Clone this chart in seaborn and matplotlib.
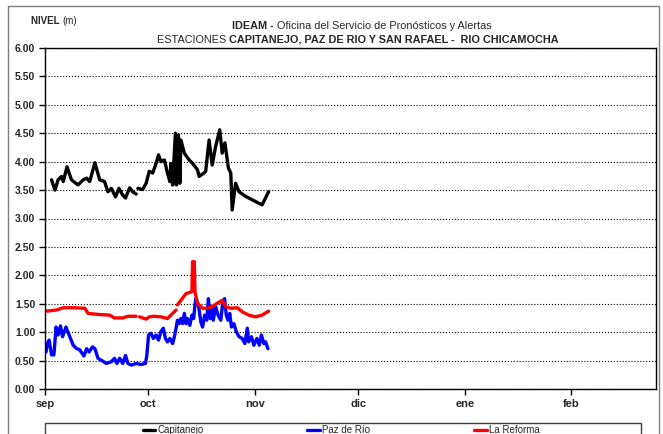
import numpy as np
import pandas as pd
import matplotlib
matplotlib.use("Agg")
import matplotlib.pyplot as plt
import seaborn as sns
from matplotlib.patches import Rectangle

nan = np.nan
inicio = pd.Timestamp("2013-09-01")

# dias contados desde el 1 de septiembre, niveles en metros (nan = sin dato)
dias_cap = [1.9, 2.9, 3.8, 4.8, 5.3, 6.4, 7.7, 9.6, 11.1, 12.1, 13.0, 14.5, 15.9, 17.3, 18.3,
            19.3, 20.5, 21.5, 22.5, 23.4, 24.6, 25.5, 26.5, 26.8, 27.0, 28.4, 29.4, 30.3, 31.3, 32.3,
            33.0, 33.7, 34.7, 35.6, 36.3, 36.6, 37.1, 37.9, 38.2, 38.8, 39.2, 39.5, 40.5, 41.9, 42.9,
            44.3, 44.8, 46.2, 46.7, 47.7, 48.6, 49.6, 50.8, 51.5, 52.3, 53.3, 54.0, 54.4, 55.4, 56.4,
            58.3, 60.2, 62.1, 63.1, 65.0]
nivel_cap = [3.68, 3.50, 3.68, 3.74, 3.65, 3.91, 3.68, 3.59, 3.68, 3.71, 3.65, 3.98, 3.68, 3.65, 3.47,
             3.53, 3.38, 3.53, 3.42, 3.36, 3.54, 3.47, 3.43, nan, 3.53, 3.51, 3.62, 3.83, 3.80, 3.97,
             4.12, 4.00, 4.03, 3.80, 3.65, 3.97, 3.59, 4.50, 3.59, 4.47, 3.62, 4.38, 4.15, 4.03, 3.97,
             3.86, 3.74, 3.80, 3.83, 4.38, 3.94, 4.27, 4.56, 4.15, 4.33, 3.89, 3.80, 3.15, 3.62, 3.47,
             3.39, 3.33, 3.27, 3.24, 3.47]

dias_paz = [0.3, 0.7, 1.2, 1.9, 2.6, 3.2, 3.8, 4.5, 5.1, 6.1, 7.0, 8.2, 9.2, 10.1, 11.3,
            12.1, 12.8, 13.8, 14.5, 15.4, 16.8, 17.8, 19.3, 20.2, 20.9, 21.7, 22.6, 23.4, 24.1, 25.1,
            26.5, 27.9, 29.2, 29.6, 30.1, 30.8, 31.5, 32.3, 33.0, 33.7, 34.4, 35.0, 35.6, 36.3, 37.1,
            37.6, 38.1, 38.5, 39.0, 39.5, 40.0, 40.5, 41.0, 41.4, 42.1, 42.7, 43.2, 43.8, 44.6, 45.3,
            45.8, 46.4, 47.0, 47.5, 48.0, 48.5, 48.9, 49.6, 50.3, 51.1, 51.7, 52.2, 52.7, 53.2, 53.7,
            54.2, 54.9, 55.6, 56.4, 57.3, 58.1, 58.8, 59.2, 60.0, 60.7, 61.6, 62.3, 62.9, 63.6, 64.1,
            64.8]
nivel_paz = [0.65, 0.80, 0.86, 0.60, 0.60, 1.09, 0.95, 1.11, 0.92, 1.09, 0.95, 0.77, 0.71, 0.69, 0.58,
             0.71, 0.65, 0.74, 0.71, 0.54, 0.49, 0.45, 0.48, 0.54, 0.45, 0.54, 0.45, 0.59, 0.45, 0.42,
             0.45, 0.43, 0.45, 0.59, 0.95, 0.98, 0.89, 0.95, 0.86, 1.01, 1.07, 0.89, 0.83, 0.89, 0.80,
             0.92, 1.07, 1.21, 1.15, 1.24, 1.15, 1.33, 1.15, 1.24, 1.12, 1.30, 1.24, 1.59, 1.48, 1.18,
             1.09, 1.30, 1.21, 1.59, 1.24, 1.45, 1.21, 1.45, 1.30, 1.21, 1.54, 1.59, 1.30, 1.21, 1.33,
             1.09, 1.15, 1.01, 0.92, 0.89, 0.80, 1.07, 0.83, 0.92, 0.77, 0.89, 0.77, 0.95, 0.80, 0.83,
             0.71]

dias_ref = [0.3, 3.4, 5.3, 8.2, 11.6, 12.5, 15.9, 18.8, 20.2, 22.6, 24.1, 26.5, 27.0, 27.5, 29.4,
            30.3, 31.8, 33.7, 35.6, 37.1, 38.1, 38.3, 38.5, 39.5, 41.0, 42.7, 42.9, 43.4, 43.6, 44.3,
            45.8, 47.2, 48.6, 50.1, 51.5, 52.5, 54.0, 55.9, 57.3, 59.2, 61.2, 63.1, 65.0]
nivel_ref = [1.37, 1.39, 1.43, 1.43, 1.42, 1.33, 1.31, 1.30, 1.25, 1.25, 1.28, 1.28, nan, 1.27, 1.23,
             1.27, 1.28, 1.27, 1.24, 1.33, 1.39, nan, 1.48, 1.56, 1.68, 1.71, 2.24, 2.24, 1.71, 1.51,
             1.42, 1.42, 1.45, 1.51, 1.56, 1.45, 1.42, 1.43, 1.36, 1.30, 1.27, 1.30, 1.37]

estaciones = ["Capitanejo", "Paz de Río", "La Reforma"]
colores = ["black", "blue", "red"]
meses = ["sep", "oct", "nov", "dic", "ene", "feb"]
inicio_meses = ["2013-09-01", "2013-10-01", "2013-11-01", "2013-12-01", "2014-01-01", "2014-02-01"]

frames = []
for est, d, v in zip(estaciones, [dias_cap, dias_paz, dias_ref], [nivel_cap, nivel_paz, nivel_ref]):
    s = pd.DataFrame({"dia": d, "nivel": v})
    s["tramo"] = s["nivel"].isna().cumsum()
    s = s.dropna()
    s["fecha"] = inicio + pd.to_timedelta(s["dia"], unit="D")
    s["estacion"] = est
    frames.append(s)
df = pd.concat(frames, ignore_index=True)

sns.set_style("white")
plt.rcParams["font.family"] = ["Liberation Sans Narrow", "Liberation Sans", "DejaVu Sans"]

fig = plt.figure(figsize=(6.63, 4.34), dpi=100)
ax = fig.add_axes([45 / 663, 1 - 389 / 434, 611 / 663, 341 / 434])

sns.lineplot(data=df, x="fecha", y="nivel", hue="estacion", units="tramo", estimator=None,
             palette=dict(zip(estaciones, colores)), linewidth=2.4, ax=ax)

handles, labels = ax.get_legend_handles_labels()
ax.get_legend().remove()

ax.set_ylim(0, 6)
ax.set_yticks(np.arange(0, 6.01, 0.5))
ax.set_yticklabels([f"{t:.2f}" for t in np.arange(0, 6.01, 0.5)], fontsize=7.5, fontweight="bold")
ax.set_xlim(inicio, inicio + pd.Timedelta(days=177.6))
ax.set_xticks(pd.to_datetime(inicio_meses))
ax.set_xticklabels(meses, fontsize=8, fontweight="bold")
ax.set_xlabel("")
ax.set_ylabel("")
ax.yaxis.grid(True, linestyle=":", color="black", linewidth=0.8)
ax.xaxis.grid(False)
ax.tick_params(axis="both", direction="out", length=4, width=1, color="black",
               bottom=True, left=True, pad=3)
for sp in ax.spines.values():
    sp.set_color("black")
    sp.set_linewidth(1)

# titulos en dos estilos
t1 = fig.text(232 / 663, 1 - 29 / 434, "IDEAM - ", fontsize=7.8, fontweight="bold")
ax.annotate("Oficina del Servicio de Pronósticos y Alertas", xy=(1, 0), xycoords=t1,
            fontsize=7.8, va="bottom", ha="left")
t2 = fig.text(157 / 663, 1 - 43 / 434, "ESTACIONES ", fontsize=7.8)
ax.annotate("CAPITANEJO, PAZ DE RIO Y SAN RAFAEL -  RIO CHICAMOCHA", xy=(1, 0), xycoords=t2,
            fontsize=7.8, fontweight="bold", va="bottom", ha="left")
t3 = fig.text(31 / 663, 1 - 24 / 434, "NIVEL ", fontsize=7, fontweight="bold")
ax.annotate("(m)", xy=(1, 0), xycoords=t3, fontsize=7, va="bottom", ha="left")

# leyenda y marcos
fig.legend(handles, labels, loc="center", ncol=3, frameon=False,
           bbox_to_anchor=(341 / 663, 1 - 430 / 434), fontsize=7,
           handlelength=1.3, handletextpad=0.2, columnspacing=10.7)
fig.add_artist(Rectangle((45 / 663, 1 - 445 / 434), 596 / 663, 22 / 434,
                         transform=fig.transFigure, fill=False, edgecolor="#404040", lw=1))
fig.add_artist(Rectangle((8 / 663, -0.05), 651 / 663, 1.036,
                         transform=fig.transFigure, fill=False, edgecolor="#808080", lw=1))

fig.savefig("out.png", dpi=100)
